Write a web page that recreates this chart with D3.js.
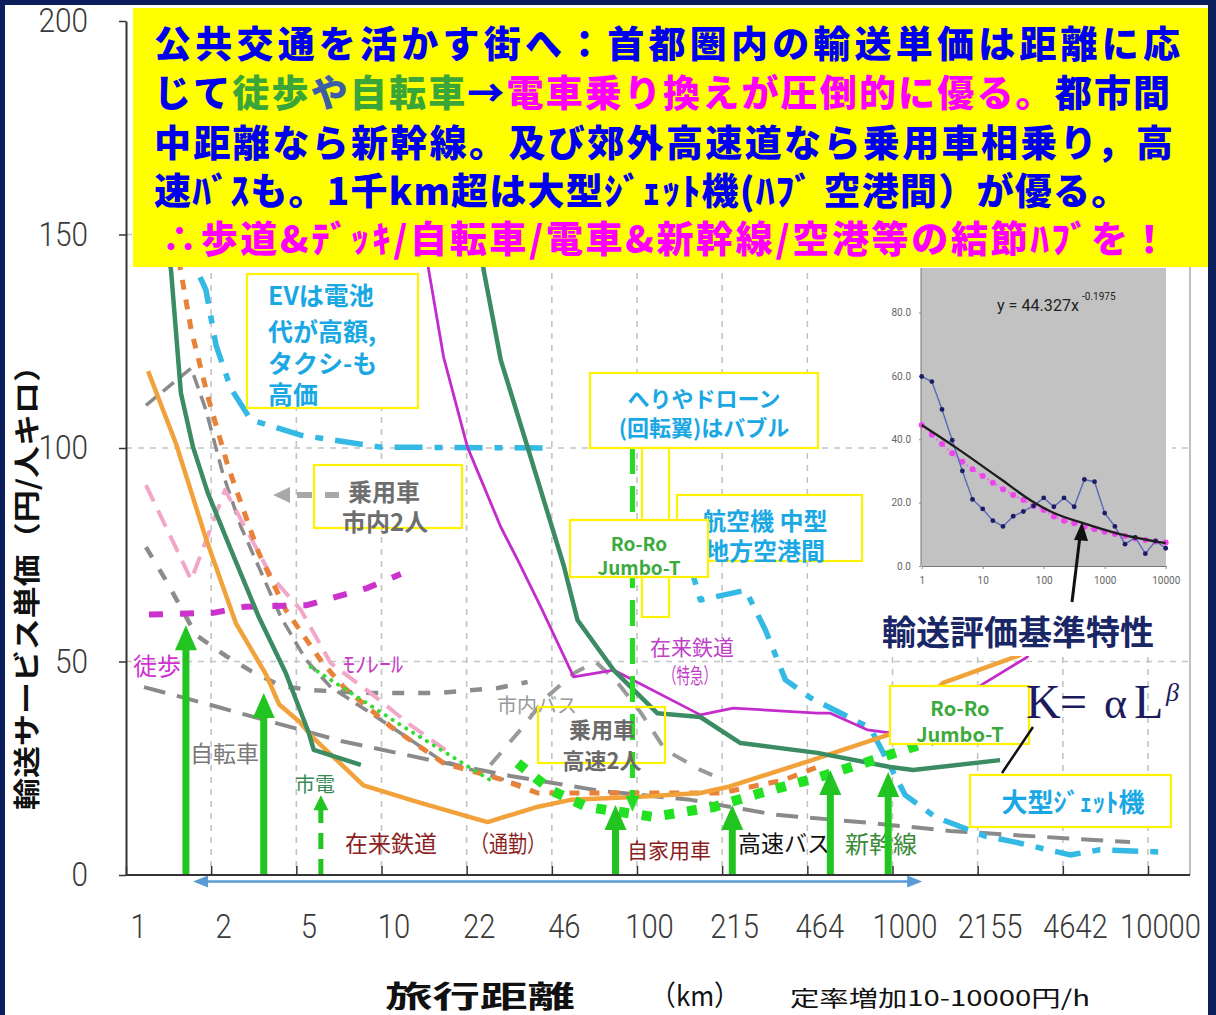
<!DOCTYPE html>
<html><head><meta charset="utf-8">
<script src="https://cdn.jsdelivr.net/npm/d3@7"></script>
<style>
html,body{margin:0;padding:0;background:#0b1f5c;}
svg{display:block;}
</style></head><body>
<svg id="c" width="1216" height="1015"></svg>
<script>
// ---------------- DATA ----------------
const xTickValues = [1, 2.154, 4.642, 10, 21.54, 46.42, 100, 215.4, 464.2, 1000, 2154, 4642, 10000];
const xTickLabels = ["1","2","5","10","22","46","100","215","464","1000","2155","4642","10000"];
const yTickValues = [0, 50, 100, 150, 200];
const yGridValues = [50, 100, 150];

// [distance km, yen per person-km]
const commuterRail = [[1.22,118],[1.57,101],[2.05,79],[2.69,59],[3.53,47],[3.97,40],[4.75,36],[5.43,32],[8.5,21],[14,17],[26,12.4],[41,16],[55,17.6],[103,18.3],[177,19.2],[226,20.6],[490,27],[980,33],[1577,45],[3155,51.5],[3500,56]];
const streetcar = [[1.41,151],[1.50,141.7],[1.64,112.9],[1.83,100.2],[2.09,89.5],[2.51,77.8],[3.31,60.4],[4.22,47.3],[5.19,33.3],[5.43,29.3],[8.3,25.8]];
const shinkansen = [[24,151],[25.1,141.7],[29.3,120.6],[37.3,100.2],[51.6,72.6],[58.5,59.7],[81,48],[120,37.9],[177,37],[254,30.9],[508,28.6],[980,25.3],[1205,24.6],[2637,26.9]];
const expressRail = [[14.6,151],[15.3,141.7],[17.5,121.3],[21.7,100.2],[29.3,81.5],[34.1,73.8],[42,62.8],[56.5,46.4],[81,48],[177,37.5],[238,39.1],[508,37.9],[571,37.9],[796,34],[980,33.3],[2065,43.3],[3360,51],[3700,55]];
const taxiEV = [[1.95,140],[2.055,137],[2.25,124.1],[2.57,114],[3.08,106.6],[4.83,103],[9.94,100.2],[45.9,100]];
const aircraft = [[159,73.8],[177,64.4],[266,66.7],[318,57.4],[381,45.7],[477,41.5],[819,34.4],[1122,18.7],[1469,13.6],[2305,9.1],[3020,7.7],[4955,4.7],[6490,5.9],[11140,5.4]];
const walking = [[1.23,61],[2.2,61.4],[2.9,62.8],[5.1,63.2],[8.8,67.2],[11.9,70.5]];
const carCity = [[1.197,110],[1.80,118.7],[2.055,108.9],[2.39,94.1],[2.82,81.5],[3.31,72.1],[4.04,60.4],[5.06,50.4],[6.33,44],[9.08,37.9],[17.05,26.9],[35,21.1]];
const cityBus = [[1.197,76.8],[1.43,69.1],[1.88,56.2],[2.46,51.3],[3.08,47.8],[4.04,44.3],[5.29,43.3],[9.08,42.6],[16.6,42.6],[28.5,43.8],[37.3,45.2]];
const bicycle = [[1.176,44],[1.64,41.7],[2.15,39.8],[3.08,37.2],[4.83,34],[6.93,31.4],[15.6,26.9],[32,23.2],[72,19.7],[162,17.6],[348,14.1],[819,12.2],[1683,10.3],[3956,8.9],[8510,7.7]];
const carHighway = [[26.7,25.8],[35,34],[43.9,41.5],[57.5,47.5],[68.8,49.9],[82.4,45.7],[103,38.2],[129,29.3],[177,24.6],[197,23.4]];
const privateCar = [[1.61,144],[1.80,127.6],[2.11,111.2],[2.51,95.6],[3.31,75.4],[4.22,62.1],[5.89,49.6],[7.12,44],[10.9,34.7],[17.5,26.2],[30.1,22.2],[40.8,19.2],[97,19.2],[212,19.2],[374,22.2],[508,25.3]];
const monorail = [[1.197,91.3],[1.80,69.1],[2.44,90.2],[3.72,69.8],[4.83,62.1],[6.33,49.6],[9.08,42.6],[13,35.1],[17.8,29.3]];
const sharedCarDots = [[5.29,48.7],[11.9,35.1],[26.7,22.2]];
const optimumDots = [[34.1,26.2],[45.9,19.9],[64,15.9],[116,13.6],[199,15.9],[304,19.2],[522,23],[841,26.9],[1205,30],[1537,32.1]];

// green arrows: [distance, tip value]
const bestArrows = [[1.716,58.5],[3.46,42.6],[82.4,16.4],[236,16.4],[571,24.6],[962,24.1]];
const streetcarArrow = [5.79,18.7];
const heliArrow = [96,100,14.8]; // distance, from value, to value
const rangeArrow = [1.83,1307];

// inset chart
const insetX = [1,1.468,2.154,3.162,4.642,6.813,10,14.68,21.54,31.62,46.42,68.13,100,146.8,215.4,316.2,464.2,681.3,1000,1468,2154,3162,4642,6813,10000];
const insetActual = [59.8,58.2,49.4,39.7,30,21,18,14.3,12.5,15.7,17.2,19,21.5,18.7,21.5,18.7,27.3,26.6,16.7,12.5,6.9,9,3.9,7.9,5.6];
const insetModel = [44.5,41.4,38.5,35.6,32.9,30.5,28.4,26.3,24.2,22.4,20.8,18.9,17.7,15.6,14.3,13.5,12.4,11.6,10.8,10.1,9.5,8.7,8.2,7.7,7.4];
const insetTrend = [[1,44.5],[3.75,37.2],[19.2,27.6],[67.6,20.2],[144,16.8],[445,13.5],[1585,10.3],[10000,7.2]];
const insetXTicks = [1,10,100,1000,10000];
const insetYTicks = [0,20,40,60,80];

// ---------------- DRAW ----------------
const svg = d3.select('#c');
const JP = '"Noto Sans CJK JP","Noto Sans",sans-serif';
const NUM = 'Roboto,"Liberation Sans",sans-serif';
const x = d3.scaleLog().domain([1,10000]).range([126,1148]);
const y = d3.scaleLinear().domain([0,200]).range([875,21]);
const line = d3.line().x(d=>x(d[0])).y(d=>y(d[1]));

svg.append('rect').attr('width',1216).attr('height',1015).attr('fill','#0b1f5c');
svg.append('rect').attr('x',5).attr('y',5).attr('width',1203).attr('height',1010).attr('fill','#fff');

// grid
const grid = svg.append('g').attr('stroke','#c4c4c4').attr('stroke-width',1.6).attr('stroke-dasharray','6,6');
xTickValues.slice(1).forEach(v=>grid.append('line').attr('x1',x(v)).attr('x2',x(v)).attr('y1',y(200)).attr('y2',y(0)));
yGridValues.forEach(v=>grid.append('line').attr('x1',x(1)).attr('x2',1190).attr('y1',y(v)).attr('y2',y(v)));
svg.append('line').attr('x1',1190).attr('x2',1190).attr('y1',y(200)).attr('y2',y(0)).attr('stroke','#aaa').attr('stroke-width',1.5);

// series
function draw(data, color, w, dash, cap){
  svg.append('path').datum(data).attr('d',line).attr('fill','none')
    .attr('stroke',color).attr('stroke-width',w)
    .attr('stroke-dasharray',dash||null).attr('stroke-linecap',cap||'butt').attr('stroke-linejoin','round');
}
draw(bicycle,'#8a8a8a',4,'22,12');
draw(cityBus,'#8c8c8c',4.5,'12,14');
draw(carCity,'#8a8a8a',3.5,'14,8');
draw(carHighway,'#9a9a9a',4,'16,14');
draw(monorail,'#f2a6c8',4,'18,10');
draw(privateCar,'#e8823a',5,'10,10');
draw(taxiEV,'#33b9e3',5.5,'28,12,8,12');
draw(aircraft,'#33b9e3',5.5,'26,12,8,12');
draw(walking,'#cc33cc',6,'14,17');
draw(sharedCarDots,'#33dd33',4,'0.1,8','round');
draw(expressRail,'#c42bcc',2.8);
draw(commuterRail,'#f2a23a',4.5);
draw(streetcar,'#3b8c62',4.5);
draw(shinkansen,'#3b8c62',4.5);
draw(optimumDots,'#22e022',10,'10,13');

// labels
function label(t,x0,y0,size,color,opt){
  opt=opt||{};
  const s=svg.append('text').attr('x',x0).attr('y',y0).attr('dominant-baseline','central')
    .attr('font-family',opt.family||JP).attr('font-size',size).attr('fill',color)
    .attr('font-weight',opt.weight||400).attr('text-anchor',opt.anchor||'start').text(t);
  if(opt.len) s.attr('textLength',opt.len).attr('lengthAdjust','spacingAndGlyphs');
  return s;
}
label('徒歩',133,664,24,'#d030d0');
label('自転車',190,752,23,'#7a7a7a');
label('市電',295,783,20,'#3a8a55');
label('ﾓﾉﾚｰﾙ',343,662,22,'#c83cc8',{len:60});
label('市内バス',497,704,20,'#9a9a9a');
label('在来鉄道',345,842,23,'#8b1e1e');
label('（通勤）',470,842,23,'#8b1e1e',{len:76});
label('自家用車',627,849,21,'#8b1e1e');
label('高速バス',738,842,23,'#111');
label('新幹線',845,842,24,'#3a8a3a');
label('在来鉄道',650,646,21,'#c040c8');
label('（特急）',663,674,21,'#c040c8',{len:54});

// green arrows
const GREEN='#22c422';
function upArrow(d,v,o){
  const xp=x(d), yt=y(v), hw=o.headW/2;
  svg.append('line').attr('x1',xp).attr('x2',xp).attr('y1',y(0)).attr('y2',yt+o.headH-1)
    .attr('stroke',GREEN).attr('stroke-width',o.shaftW).attr('stroke-dasharray',o.dash||null);
  svg.append('path').attr('d',`M${xp},${yt}L${xp-hw},${yt+o.headH}L${xp+hw},${yt+o.headH}Z`).attr('fill',GREEN);
}
bestArrows.forEach(a=>upArrow(a[0],a[1],{headW:22,headH:25,shaftW:7}));
upArrow(streetcarArrow[0],streetcarArrow[1],{headW:15,headH:15,shaftW:5,dash:'16,10'});
{
  const xp=x(heliArrow[0]), y1=y(heliArrow[1]), y2=y(heliArrow[2]);
  svg.append('line').attr('x1',xp).attr('x2',xp).attr('y1',y1).attr('y2',y2-12)
    .attr('stroke','#22dd22').attr('stroke-width',5).attr('stroke-dasharray','26,12');
  svg.append('path').attr('d',`M${xp},${y2}L${xp-7},${y2-16}L${xp+7},${y2-16}Z`).attr('fill','#22dd22');
}
// range arrow
{
  const ya=y(0)+6.5, xa=x(rangeArrow[0]), xb=x(rangeArrow[1]);
  svg.append('line').attr('x1',xa+12).attr('x2',xb-12).attr('y1',ya).attr('y2',ya).attr('stroke','#5b9bd5').attr('stroke-width',2.5);
  svg.append('path').attr('d',`M${xa},${ya}L${xa+15},${ya-6}L${xa+15},${ya+6}Z`).attr('fill','#5b9bd5');
  svg.append('path').attr('d',`M${xb},${ya}L${xb-15},${ya-6}L${xb-15},${ya+6}Z`).attr('fill','#5b9bd5');
}

// annotation boxes
function box(x0,y0,x1,y1,fill){
  svg.append('rect').attr('x',x0).attr('y',y0).attr('width',x1-x0).attr('height',y1-y0)
    .attr('fill',fill===undefined?'#fff':fill).attr('stroke','#fff200').attr('stroke-width',2.2);
}
const CYAN='#1aa8e4', RRG='#3caa3c';
box(590,373,818,448);
box(642,448,669,617);
label('へりやドローン',704,397,22,CYAN,{weight:700,anchor:'middle'});
label('(回転翼)はバブル',704,426,22,CYAN,{weight:700,anchor:'middle'});
box(677,495,862,561);
label('航空機 中型',702,519,24,CYAN,{weight:700});
label('地方空港間',705,549,24,CYAN,{weight:700});
box(570,520,708,577);
label('Ro-Ro',639,542,19,RRG,{weight:700,anchor:'middle'});
label('Jumbo-T',639,566,19,RRG,{weight:700,anchor:'middle'});
box(538,707,665,763,'none');
label('乗用車',602,728,22,'#6a6a6a',{weight:700,anchor:'middle'});
label('高速2人',602,759,22,'#6a6a6a',{weight:700,anchor:'middle'});
box(890,686,1029,744);
label('Ro-Ro',960,707,20,RRG,{weight:700,anchor:'middle'});
label('Jumbo-T',960,733,20,RRG,{weight:700,anchor:'middle'});
box(970,775,1171,827);
label('大型ｼﾞｪｯﾄ機',1073,800,26,CYAN,{weight:700,anchor:'middle'});
box(247,274,418,408);
['EVは電池','代が高額,','タクシ-も','高価'].forEach((t,i)=>label(t,268,[294,330,362,393][i],25,CYAN,{weight:700}));
box(314,465,462,528);
label('乗用車',348,490,24,'#6e6e6e',{weight:700});
label('市内2人',342,520,24,'#6e6e6e',{weight:700});
svg.append('path').attr('d','M273,495L290,487L290,503Z').attr('fill','#a8a8a8');
svg.append('rect').attr('x',297).attr('y',492).attr('width',15).attr('height',6).attr('fill','#a8a8a8');
svg.append('rect').attr('x',325).attr('y',492).attr('width',14).attr('height',6).attr('fill','#a8a8a8');

// K = alpha L^beta
const KC='#1b1b5e', SERIF='"Liberation Serif","DejaVu Serif",serif';
[['K',1026],['=',1060],['α',1104],['L',1134]].forEach(p=>svg.append('text').attr('x',p[1]).attr('y',718)
  .attr('font-family',SERIF).attr('font-size',p[0]==='α'?44:48).attr('fill',KC).text(p[0]));
svg.append('text').attr('x',1166).attr('y',701).attr('font-family',SERIF).attr('font-size',26).attr('fill',KC).attr('font-style','italic').text('β');
svg.append('line').attr('x1',1033).attr('y1',727).attr('x2',1002).attr('y2',773).attr('stroke','#111').attr('stroke-width',2.5);

// ---------------- INSET ----------------
svg.append('rect').attr('x',888).attr('y',268).attr('width',284).attr('height',388).attr('fill','#fff');
const xi = d3.scaleLog().domain([1,10000]).range([921.7,1165.7]);
const yi = d3.scaleLinear().domain([0,80]).range([566,312.5]);
svg.append('rect').attr('x',921).attr('y',268).attr('width',245).attr('height',298).attr('fill','#c2c2c2');
const ia = svg.append('g').attr('transform','translate(921,0)')
  .call(d3.axisLeft(yi).tickValues(insetYTicks).tickFormat(d3.format('.1f')).tickSize(2).tickPadding(8).tickSizeOuter(0));
ia.select('.domain').attr('stroke','#777').attr('d','M0,268V566');
ia.selectAll('text').attr('font-family',NUM).attr('font-size',10).attr('fill','#666');
ia.selectAll('.tick line').attr('stroke','#888');
const ib = svg.append('g').attr('transform','translate(0,566)')
  .call(d3.axisBottom(xi).tickValues(insetXTicks).tickFormat(d3.format('d')).tickSize(3).tickPadding(8).tickSizeOuter(0));
ib.select('.domain').attr('stroke','#777');
ib.selectAll('text').attr('font-family',NUM).attr('font-size',10).attr('fill','#666');
ib.selectAll('.tick line').attr('stroke','#888');
const iline = d3.line().x(d=>xi(d[0])).y(d=>yi(d[1]));
const actual = insetX.map((d,i)=>[d,insetActual[i]]);
const model = insetX.map((d,i)=>[d,insetModel[i]]);
svg.append('path').datum(model).attr('d',iline).attr('fill','none').attr('stroke','#ff55ff').attr('stroke-width',1.5).attr('stroke-dasharray','2,3');
svg.selectAll('.mdot').data(model).enter().append('circle').attr('cx',d=>xi(d[0])).attr('cy',d=>yi(d[1])).attr('r',3).attr('fill','#ee44ee');
svg.append('path').datum(actual).attr('d',iline).attr('fill','none').attr('stroke','#5a68b8').attr('stroke-width',1.4);
svg.selectAll('.adot').data(actual).enter().append('circle').attr('cx',d=>xi(d[0])).attr('cy',d=>yi(d[1])).attr('r',2.4).attr('fill','#1c1c66');
svg.append('path').datum(insetTrend).attr('d',iline.curve(d3.curveMonotoneX)).attr('fill','none').attr('stroke','#1e1e1e').attr('stroke-width',2.4);
{
  const f=svg.append('text').attr('x',997).attr('y',311).attr('font-family',NUM).attr('font-size',17).attr('fill','#222').text('y = 44.327x');
  f.attr('textLength',82).attr('lengthAdjust','spacingAndGlyphs');
  svg.append('text').attr('x',1082).attr('y',300).attr('font-family',NUM).attr('font-size',10).attr('fill','#222').text('-0.1975');
}
svg.append('line').attr('x1',1072).attr('y1',602).attr('x2',1080).attr('y2',536).attr('stroke','#111').attr('stroke-width',3);
svg.append('path').attr('d','M1082,522L1074,540L1088,541Z').attr('fill','#111');
{
  const t=label('輸送評価基準特性',882,630,34,'#1a2766',{weight:700});
  t.attr('textLength',272).attr('lengthAdjust','spacingAndGlyphs');
}

// ---------------- TITLE BOX ----------------
svg.append('rect').attr('x',133).attr('y',8).attr('width',1075).attr('height',259).attr('fill','#ffff00');
const BL='#0000ee', GR='#3aa63a', MG='#ff00ff';
const titleLines = [
  [["公共交通を活かす街へ：首都圏内の輸送単価は距離に応",BL]],
  [["じて",BL],["徒歩",GR],["や","#3d5da8"],["自転車",GR],["→",BL],["電車乗り換えが圧倒的に優る。",MG],["都市間",BL]],
  [["中距離なら新幹線。及び郊外高速道なら乗用車相乗り，高",BL]],
  [["速ﾊﾞｽも。1千km超は大型ｼﾞｪｯﾄ機(ﾊﾌﾞ 空港間）が優る。",BL]],
  [["∴歩道&ﾃﾞｯｷ/自転車/電車&新幹線/空港等の結節ﾊﾌﾞを！",MG]]
];
const titleX=[154,154,154,154,161], titleY=[42,91,141,189,237], titleW=[1026,1016,1019,978,1012];
titleLines.forEach((segs,i)=>{
  const t=svg.append('text').attr('x',titleX[i]).attr('y',titleY[i]).attr('dominant-baseline','central')
    .attr('font-family',JP).attr('font-size',37).attr('font-weight',900);
  segs.forEach(s=>t.append('tspan').attr('fill',s[1]).text(s[0]));
  const w=t.node().getComputedTextLength();
  const n=[...segs.map(s=>s[0]).join('')].length;
  t.attr('letter-spacing',((titleW[i]-w)/(n-1)).toFixed(2));
});

// ---------------- AXES ----------------
const ya = svg.append('g').attr('transform',`translate(${x(1)},0)`)
  .call(d3.axisLeft(y).tickValues(yTickValues).tickSize(7).tickSizeOuter(0).tickPadding(31));
ya.select('.domain').attr('stroke','#333').attr('stroke-width',2);
ya.selectAll('.tick line').attr('stroke','#333').attr('stroke-width',1.5);
ya.selectAll('text').attr('font-family',NUM).attr('font-weight',300).attr('font-size',33).attr('fill','#3a3a3a')
  .each(function(){const n=this.textContent.length; d3.select(this).attr('textLength',n*16.5).attr('lengthAdjust','spacingAndGlyphs');});

const xa = svg.append('g').attr('transform',`translate(0,${y(0)})`)
  .call(d3.axisBottom(x).tickValues(xTickValues).tickFormat((d,i)=>xTickLabels[i]).tickSizeInner(-9).tickSizeOuter(0).tickPadding(40));
xa.select('.domain').remove();
xa.selectAll('.tick line').attr('stroke','#333').attr('stroke-width',1.5);
xa.selectAll('text').attr('font-family',NUM).attr('font-weight',300).attr('font-size',33).attr('fill','#3a3a3a').attr('dx',12)
  .each(function(){const n=this.textContent.length; d3.select(this).attr('textLength',n*16.2).attr('lengthAdjust','spacingAndGlyphs');});
svg.append('line').attr('x1',x(1)).attr('x2',1190).attr('y1',y(0)).attr('y2',y(0)).attr('stroke','#333').attr('stroke-width',2);

// axis titles
{
  const t=svg.append('text').attr('transform','translate(25,580) rotate(-90)').attr('text-anchor','middle')
    .attr('dominant-baseline','central').attr('font-family',JP).attr('font-size',27).attr('font-weight',700)
    .attr('fill','#111').text('輸送サービス単価（円/人キロ）');
  t.attr('textLength',460).attr('lengthAdjust','spacingAndGlyphs');
}
label('旅行距離',385,994,30,'#111',{weight:700,len:190});
label('（km）',650,994,28,'#111',{len:90});
label('定率増加10-10000円/h',790,996,22,'#111',{len:300});
</script>
</body></html>
